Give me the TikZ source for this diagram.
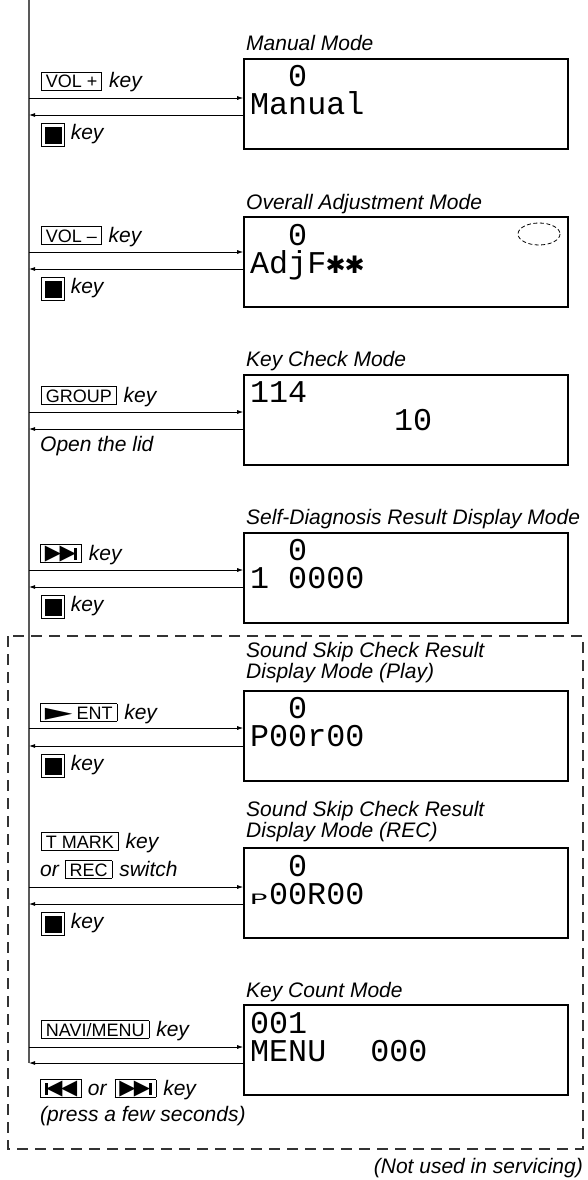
\documentclass[tikz,border=0pt]{standalone}
\usepackage{fontspec}
\usepackage{graphicx}
\setmainfont{Liberation Sans}
\newfontfamily\lcdfont{Liberation Mono}
\newfontfamily\symfont{DejaVu Sans}
\usetikzlibrary{arrows.meta,positioning}

\newcommand{\keycap}[1]{{\setlength{\fboxsep}{2pt}\setlength{\fboxrule}{0.7pt}%
  \fbox{\kern2pt\upshape\fontsize{18}{18}\selectfont\rule{0pt}{13pt}\smash{#1}\kern2pt}}}
\newcommand{\stopkey}{{\setlength{\fboxsep}{2.5pt}\setlength{\fboxrule}{0.8pt}%
  \fbox{\rule[-4pt]{17pt}{17pt}}}}
\newcommand{\nextsym}{{\symfont\fontsize{21}{21}\selectfont\raisebox{0.5pt}{▶\kern-1.5pt▶}\kern-1.5pt}\rule[0.5pt]{3pt}{12pt}}
\newcommand{\prevsym}{\rule[0.5pt]{3pt}{12pt}{\symfont\fontsize{21}{21}\selectfont\kern-1.5pt\raisebox{0.5pt}{◀\kern-1.5pt◀}}}
\newcommand{\playsym}{{\symfont\fontsize{24}{24}\selectfont\raisebox{-1pt}{\scalebox{1.5}[1]{►}}}}
\newcommand{\lcdstar}{\makebox[19pt]{\symfont\fontsize{24}{24}\selectfont ✱}}
\newcommand{\lcdrows}[2]{\vtop{\baselineskip=28pt\lineskiplimit=-50pt\hbox{#1}\hbox{#2}}}

\begin{document}
\begin{tikzpicture}[x=1pt, y=-1pt, >={Latex[length=6pt,width=4pt]},
    lcdbox/.style={rectangle, draw, line width=1.6pt, minimum width=324pt, minimum height=90pt, inner sep=0pt},
    lcd/.style={anchor=base west, inner sep=0pt, font=\lcdfont\fontsize{31.7}{31.7}\selectfont},
    mode/.style={anchor=base west, inner sep=0pt, font=\fontsize{21}{21}\selectfont\itshape},
    keylbl/.style={anchor=base west, inner sep=0pt, font=\fontsize{21}{21}\selectfont\itshape},
    ar/.style={->, line width=0.8pt},
    trunk/.style={line width=1.5pt, black!65}]
    \useasboundingbox (0,0) rectangle (587,1180);

    % main line on the left
    \coordinate (top) at (29,0);
    \coordinate (bot) at (29,1063);
    \draw [trunk] (top) -- (bot);

    % Manual Mode
    \node [mode] (manlbl) at (246,51) {Manual Mode};
    \node [lcdbox] (manual) at (406,104) {};
    \node [lcd] (mantxt) at (250,87) {\lcdrows{\phantom{00}0}{Manual}};
    \node [keylbl] (manin) at (41,88) {\keycap{VOL +}\hspace{7pt}key};
    \node [keylbl] (manout) at (41,139.5) {\stopkey\hspace{6pt}key};
    \coordinate (t1) at (29,98);
    \coordinate (r1) at (29,115);
    \draw [ar] (t1) -- (t1 -| manual.west);
    \draw [ar] (r1 -| manual.west) -- (r1);

    % Overall Adjustment Mode
    \node [mode] (adjlbl) at (246,209) {Overall Adjustment Mode};
    \node [lcdbox] (adj) at (406,262) {};
    \node [lcd] (adjtxt) at (250,245) {\lcdrows{\phantom{00}0}{AdjF\lcdstar\lcdstar}};
    \draw [dashed, dash pattern=on 4pt off 2.5pt, line width=0.8pt] (539,234) ellipse [x radius=21, y radius=11];
    \node [keylbl] (adjin) at (41,242) {\keycap{VOL –}\hspace{7pt}key};
    \node [keylbl] (adjout) at (41,293.5) {\stopkey\hspace{6pt}key};
    \coordinate (t2) at (29,252);
    \coordinate (r2) at (29,269);
    \draw [ar] (t2) -- (t2 -| adj.west);
    \draw [ar] (r2 -| adj.west) -- (r2);

    % Key Check Mode
    \node [mode] (kchlbl) at (246,366) {Key Check Mode};
    \node [lcdbox] (kcheck) at (406,420) {};
    \node [lcd] (kchtxt) at (250,402) {\lcdrows{114}{\hspace{144pt}10}};
    \node [keylbl] (kchin) at (41,402) {\keycap{GROUP}\hspace{7pt}key};
    \node [keylbl] (kchout) at (40,451) {Open the lid};
    \coordinate (t3) at (29,412);
    \coordinate (r3) at (29,429);
    \draw [ar] (t3) -- (t3 -| kcheck.west);
    \draw [ar] (r3 -| kcheck.west) -- (r3);

    % Self-Diagnosis Result Display Mode
    \node [mode] (diaglbl) at (246,524) {Self-Diagnosis Result Display Mode};
    \node [lcdbox] (diag) at (406,578) {};
    \node [lcd] (diagtxt) at (250,560) {\lcdrows{\phantom{00}0}{1 0000}};
    \node [keylbl] (diagin) at (40,560) {\keycap{\nextsym}\hspace{7pt}key};
    \node [keylbl] (diagout) at (41,611.5) {\stopkey\hspace{6pt}key};
    \coordinate (t4) at (29,570);
    \coordinate (r4) at (29,587);
    \draw [ar] (t4) -- (t4 -| diag.west);
    \draw [ar] (r4 -| diag.west) -- (r4);

    % not used in servicing
    \draw [black!80, line width=1.1pt, dash pattern=on 11pt off 7pt] (8,636) rectangle (583,1149);
    \node [anchor=base east, inner sep=0pt, font=\fontsize{21}{21}\selectfont\itshape] (note) at (583,1173) {(Not used in servicing)};

    % Sound Skip Check Result Display Mode (Play)
    \node [mode] (playlbl1) at (246,657) {Sound Skip Check Result};
    \node [mode] (playlbl2) at (246,678) {Display Mode (Play)};
    \node [lcdbox] (play) at (406,736) {};
    \node [lcd] (playtxt) at (250,718) {\lcdrows{\phantom{00}0}{P00r00}};
    \node [keylbl] (playin) at (40,719) {\keycap{\playsym\hspace{4pt}ENT}\hspace{7pt}key};
    \node [keylbl] (playout) at (41,770.5) {\stopkey\hspace{6pt}key};
    \coordinate (t5) at (29,728);
    \coordinate (r5) at (29,746);
    \draw [ar] (t5) -- (t5 -| play.west);
    \draw [ar] (r5 -| play.west) -- (r5);

    % Sound Skip Check Result Display Mode (REC)
    \node [mode] (reclbl1) at (246,816) {Sound Skip Check Result};
    \node [mode] (reclbl2) at (246,837) {Display Mode (REC)};
    \node [lcdbox] (rec) at (406,893) {};
    \node [lcd] (rectxt) at (250,876) {\lcdrows{\phantom{00}0}{\makebox[19pt][l]{\scalebox{0.95}[0.5]{P}}00R00}};
    \node [keylbl] (recin1) at (41,848) {\keycap{T MARK}\hspace{7pt}key};
    \node [keylbl] (recin2) at (40,876) {or\hspace{6pt}\keycap{REC}\hspace{7pt}switch};
    \node [keylbl] (recout) at (41,928.5) {\stopkey\hspace{6pt}key};
    \coordinate (t6) at (29,887);
    \coordinate (r6) at (29,904);
    \draw [ar] (t6) -- (t6 -| rec.west);
    \draw [ar] (r6 -| rec.west) -- (r6);

    % Key Count Mode
    \node [mode] (kcntlbl) at (246,997) {Key Count Mode};
    \node [lcdbox] (kcount) at (406,1050) {};
    \node [lcd] (kcnttxt) at (250,1033) {\lcdrows{001}{MENU\hspace{44pt}000}};
    \node [keylbl] (kcntin) at (41,1036) {\keycap{NAVI/MENU}\hspace{7pt}key};
    \node [keylbl] (kcntout1) at (40,1095) {\keycap{\prevsym}\hspace{6pt}or\hspace{8pt}\keycap{\nextsym}\hspace{7pt}key};
    \node [keylbl] (kcntout2) at (40,1121) {(press a few seconds)};
    \coordinate (t7) at (29,1047);
    \coordinate (r7) at (29,1063);
    \draw [ar] (t7) -- (t7 -| kcount.west);
    \draw [ar] (r7 -| kcount.west) -- (r7);
\end{tikzpicture}
\end{document}
